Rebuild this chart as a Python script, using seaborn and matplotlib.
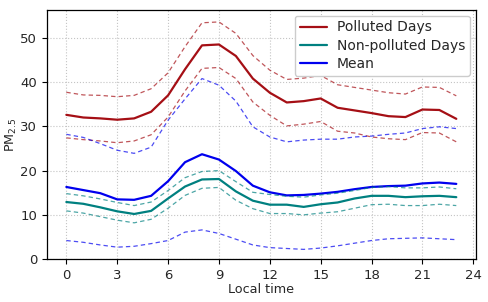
import numpy as np
import pandas as pd
import matplotlib
matplotlib.use("Agg")
import matplotlib.pyplot as plt
import seaborn as sns

hours = list(range(24))

polluted = [32.6, 32.0, 31.8, 31.5, 31.8, 33.3, 37.0, 42.9, 48.3, 48.5, 45.9, 40.8,
            37.6, 35.4, 35.7, 36.3, 34.2, 33.6, 33.0, 32.3, 32.1, 33.8, 33.7, 31.7]
polluted_up = [37.7, 37.1, 37.0, 36.7, 37.0, 38.5, 42.1, 48.0, 53.4, 53.6, 51.0, 46.0,
               42.7, 40.6, 40.9, 41.5, 39.4, 38.8, 38.2, 37.6, 37.3, 38.9, 38.8, 36.9]
polluted_lo = [27.4, 27.0, 26.7, 26.3, 26.7, 28.1, 32.1, 38.0, 43.1, 43.3, 40.8, 35.5,
               32.5, 30.1, 30.5, 31.1, 28.9, 28.5, 27.6, 27.2, 27.0, 28.6, 28.5, 26.5]

clean = [12.9, 12.5, 11.7, 10.8, 10.2, 10.9, 13.7, 16.4, 18.0, 18.1, 15.3, 13.2,
         12.3, 12.3, 11.8, 12.4, 12.8, 13.7, 14.3, 14.3, 14.0, 14.2, 14.3, 14.0]
clean_up = [14.8, 14.3, 13.6, 12.8, 12.1, 12.9, 15.5, 18.4, 19.8, 20.0, 17.5, 15.1,
            14.6, 14.2, 14.0, 14.5, 14.9, 15.5, 16.2, 16.4, 16.1, 16.1, 16.3, 15.9]
clean_lo = [10.9, 10.4, 9.6, 8.8, 8.2, 9.0, 11.5, 14.4, 16.0, 16.2, 13.3, 11.4,
            10.3, 10.3, 10.0, 10.4, 10.7, 11.5, 12.3, 12.4, 12.1, 12.1, 12.4, 12.1]

mean = [16.3, 15.6, 14.9, 13.5, 13.4, 14.3, 17.6, 21.9, 23.7, 22.5, 19.9, 16.6,
        15.1, 14.4, 14.5, 14.8, 15.2, 15.8, 16.3, 16.5, 16.6, 17.1, 17.3, 17.0]
mean_up = [28.2, 27.5, 26.1, 24.6, 23.9, 25.3, 31.4, 36.2, 40.8, 39.3, 35.7, 29.9,
           27.6, 26.5, 26.9, 27.1, 27.1, 27.6, 27.8, 28.2, 28.5, 29.5, 29.9, 29.5]
mean_lo = [4.2, 3.8, 3.2, 2.7, 2.9, 3.5, 4.2, 6.1, 6.6, 5.8, 4.5, 3.2,
           2.6, 2.4, 2.2, 2.5, 3.0, 3.6, 4.2, 4.6, 4.7, 4.8, 4.6, 4.4]

df = pd.DataFrame({"hour": hours,
                   "polluted": polluted, "polluted_up": polluted_up, "polluted_lo": polluted_lo,
                   "clean": clean, "clean_up": clean_up, "clean_lo": clean_lo,
                   "mean": mean, "mean_up": mean_up, "mean_lo": mean_lo})

sns.set_style("whitegrid", {"grid.linestyle": ":", "grid.color": "#c4c4c4",
                            "axes.edgecolor": "black", "xtick.bottom": True,
                            "ytick.left": True})
plt.rcParams["font.family"] = ["DejaVu Sans"]
plt.rcParams["font.size"] = 9.5

fig, ax = plt.subplots(figsize=(4.88, 3.02), dpi=100)
fig.subplots_adjust(left=0.096, right=0.975, bottom=0.142, top=0.967)

red = "#a50f15"
teal = "#008080"
blue = "#0000ee"

sns.lineplot(data=df, x="hour", y="polluted", color=red, lw=1.6, ax=ax, label="Polluted Days")
sns.lineplot(data=df, x="hour", y="clean", color=teal, lw=1.6, ax=ax, label="Non-polluted Days")
sns.lineplot(data=df, x="hour", y="mean", color=blue, lw=1.6, ax=ax, label="Mean")
for col, c in [("polluted_up", red), ("polluted_lo", red),
               ("clean_up", teal), ("clean_lo", teal),
               ("mean_up", blue), ("mean_lo", blue)]:
    sns.lineplot(data=df, x="hour", y=col, color=c, lw=0.9, ls=(0, (3.5, 2.5)),
                 alpha=0.7, ax=ax)

ax.set_xticks(range(0, 25, 3))
ax.set_yticks(range(0, 51, 10))
ax.set_xlim(-1.15, 24.15)
ax.set_ylim(0, 56.3)
ax.set_xlabel("Local time", fontsize=9.2, labelpad=1)
ax.set_ylabel("PM$_{2.5}$", fontsize=9.2, labelpad=1)
ax.tick_params(axis="both", length=3.5, width=0.8, color="black", labelsize=9.5)
for s in ax.spines.values():
    s.set_linewidth(0.9)
ax.legend(loc="upper right", fontsize=10, frameon=True, fancybox=True,
          edgecolor="#cccccc", framealpha=1, borderaxespad=0.4,
          handlelength=2.0, handletextpad=0.7, borderpad=0.35, labelspacing=0.3)

fig.savefig("out.png", dpi=100)
